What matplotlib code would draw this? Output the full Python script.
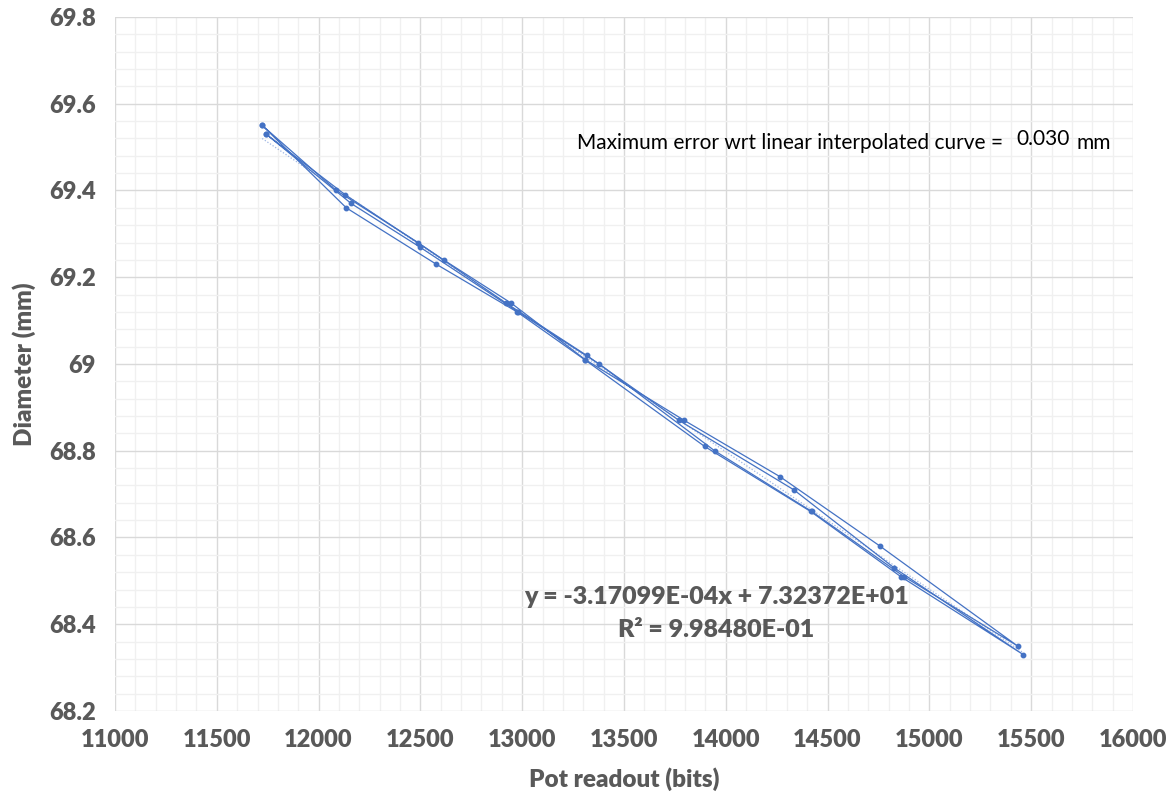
import matplotlib.pyplot as plt
import numpy as np
from matplotlib.ticker import MultipleLocator, FuncFormatter

# Messreihe 1: Hin- und Rueckweg
pot_1 = [11723, 12136, 12578, 12975, 13307, 13896, 14417, 14859, 15461,
         14827, 14334, 13770, 13316, 12922, 12488, 12087, 11723]
dia_1 = [69.55, 69.36, 69.23, 69.12, 69.01, 68.81, 68.66, 68.51, 68.33,
         68.53, 68.71, 68.87, 69.02, 69.14, 69.28, 69.40, 69.55]

# Messreihe 2
pot_2 = [11742, 12160, 12496, 12980, 13378, 13945, 14422, 14875, 15433,
         14758, 14267, 13796, 13310, 12947, 12614, 12131, 11742]
dia_2 = [69.53, 69.37, 69.27, 69.12, 69.00, 68.80, 68.66, 68.51, 68.35,
         68.58, 68.74, 68.87, 69.01, 69.14, 69.24, 69.39, 69.53]

# lineare Trendlinie
steigung = -3.17099E-04
achsenabschnitt = 7.32372E+01
r2 = 9.98480E-01
max_fehler = 0.030

blau = "#4472C4"
grau = "#595959"
schrift = ["Lato", "DejaVu Sans"]

B, H = 1176, 797
fig = plt.figure(figsize=(B / 100, H / 100), dpi=100)
ax = fig.add_axes([0.0978, 0.1079, 0.8656, 0.8708])

for x, y in [(pot_1, dia_1), (pot_2, dia_2)]:
    ax.plot(x, y, color=blau, lw=0.9, marker="o", ms=3.2, mec=blau, mfc=blau, zorder=3)

alle_x = np.array(pot_1 + pot_2)
tx = np.array([alle_x.min(), alle_x.max()])
ax.plot(tx, steigung * tx + achsenabschnitt, color="#9db5e3", lw=0.9, ls=(0, (1, 1.5)), zorder=2)

ax.set_xlim(11000, 16000)
ax.set_ylim(68.2, 69.8)
ax.xaxis.set_major_locator(MultipleLocator(500))
ax.xaxis.set_minor_locator(MultipleLocator(100))
ax.yaxis.set_major_locator(MultipleLocator(0.2))
ax.yaxis.set_minor_locator(MultipleLocator(0.04))
ax.yaxis.set_major_formatter(FuncFormatter(lambda v, p: f"{round(v, 2):g}"))
ax.xaxis.set_major_formatter(FuncFormatter(lambda v, p: f"{int(v)}"))

ax.grid(True, which="major", color="#d9d9d9", lw=1.0, zorder=0)
ax.grid(True, which="minor", color="#f0f0f0", lw=1.0, zorder=0)
ax.set_axisbelow(True)
for s in ax.spines.values():
    s.set_visible(False)
ax.tick_params(which="both", length=0, pad=14)
ax.tick_params(axis="x", pad=13)
for lab in ax.get_xticklabels() + ax.get_yticklabels():
    lab.set_family(schrift)
    lab.set_fontweight("heavy")
    lab.set_fontsize(17)
    lab.set_color(grau)

ax.set_xlabel("Pot readout (bits)", family=schrift, fontweight="heavy", fontsize=17.5, color=grau, labelpad=12)
ax.set_ylabel("Diameter (mm)", family=schrift, fontweight="heavy", fontsize=17.5, color=grau, labelpad=9)

# Gleichung und Bestimmtheitsmass
ax.text(13955, 68.462, f"y = {steigung:.5E}x + {achsenabschnitt:.5E}", ha="center", va="center",
        family=schrift, fontweight="heavy", fontsize=18, color=grau)
ax.text(13955, 68.386, f"R² = {r2:.5E}", ha="center", va="center",
        family=schrift, fontweight="heavy", fontsize=18, color=grau)

fig.text(577 / B, 1 - 143 / H, "Maximum error wrt linear interpolated curve =",
         ha="left", va="center", family=schrift, fontsize=15, color="black")
fig.text(1016 / B, 1 - 139 / H, f"{max_fehler:.3f}", ha="left", va="center",
         family=schrift, fontsize=15, color="black")
fig.text(1076 / B, 1 - 143 / H, "mm", ha="left", va="center",
         family=schrift, fontsize=15, color="black")

fig.savefig("out.png", dpi=100)
